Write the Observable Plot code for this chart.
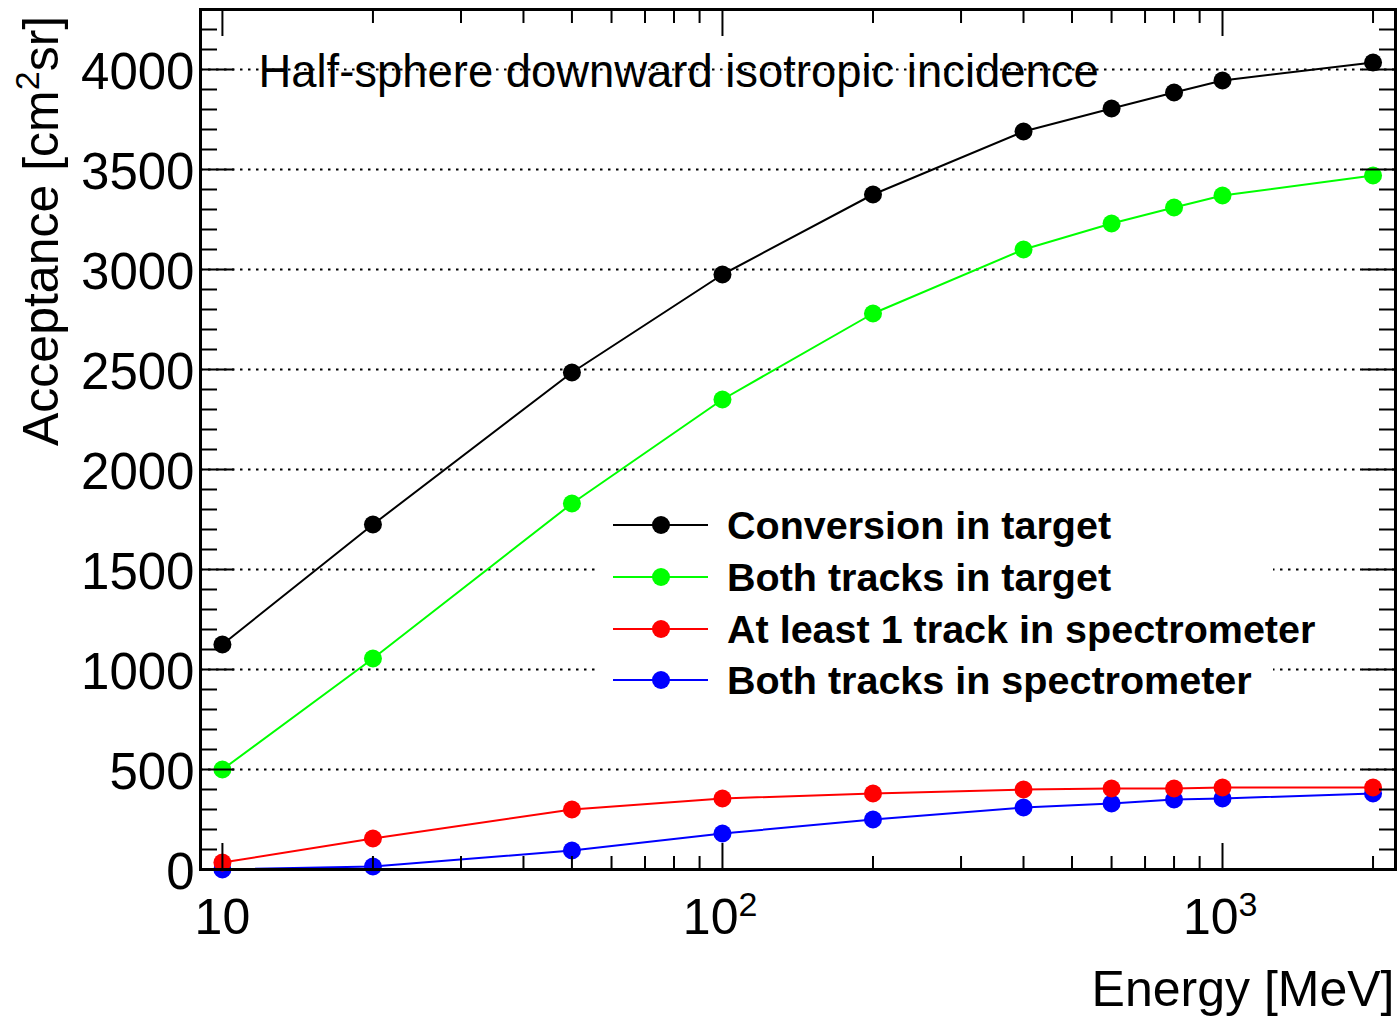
<!DOCTYPE html>
<html>
<head>
<meta charset="utf-8">
<script src="https://cdn.jsdelivr.net/npm/d3@7"></script>
<script src="https://cdn.jsdelivr.net/npm/@observablehq/plot@0.6"></script>
<style>
  body { margin: 0; background: #fff; }
  #chart { width: 1400px; height: 1016px; }
</style>
</head>
<body>
<div id="chart"></div>
<script>
// ---- Data ----
const energies = [10, 20, 50, 100, 200, 400, 600, 800, 1000, 2000];
const conversionInTarget = [1125, 1725, 2485, 2975, 3375, 3690, 3805, 3885, 3945, 4035];
const bothTracksInTarget = [500, 1055, 1830, 2350, 2780, 3100, 3230, 3310, 3370, 3470];
const atLeastOneTrackInSpectrometer = [35, 155, 300, 355, 380, 400, 405, 405, 410, 410];
const bothTracksInSpectrometer = [0, 15, 95, 180, 250, 310, 330, 350, 355, 380];

const seriesNames = [
  "Conversion in target",
  "Both tracks in target",
  "At least 1 track in spectrometer",
  "Both tracks in spectrometer"
];
const seriesValues = [conversionInTarget, bothTracksInTarget, atLeastOneTrackInSpectrometer, bothTracksInSpectrometer];
const seriesColors = ["#000000", "#00ff00", "#ff0000", "#0000ff"];
const drawOrder = [0, 1, 3, 2];

const yMajorTicks = [0, 500, 1000, 1500, 2000, 2500, 3000, 3500, 4000];
const yMinorTicks = [100,200,300,400,600,700,800,900,1100,1200,1300,1400,1600,1700,1800,1900,
  2100,2200,2300,2400,2600,2700,2800,2900,3100,3200,3300,3400,3600,3700,3800,3900,4100,4200];
const yGridLines = [500, 1000, 1500, 2000, 2500, 3000, 3500, 4000];
const xMajorTicks = [10, 100, 1000];
const xMinorTicks = [20, 30, 40, 50, 60, 70, 80, 90, 200, 300, 400, 500, 600, 700, 800, 900, 2000];
const xTickBase = ["10", "10", "10"];
const xTickExponent = ["", "2", "3"];

const titleText = "Half-sphere downward isotropic incidence";
const xLabel = "Energy [MeV]";
const yLabelMain = "Acceptance [cm";
const yLabelSup = "2";
const yLabelEnd = "sr]";

// ---- Tables built from the arrays ----
const rows = [];
seriesNames.forEach((name, s) => {
  energies.forEach((e, i) => rows.push({series: name, s, energy: e, value: seriesValues[s][i]}));
});
const xLabelRows = xMajorTicks.map((v, i) => ({v, base: xTickBase[i], exp: xTickExponent[i]}));

const FONT = "'Liberation Sans', Arial, Helvetica, sans-serif";

const marks = [
  Plot.ruleY(yGridLines, {stroke: "black", strokeWidth: 2, strokeDasharray: "2.5,5.5"})
];
for (const s of drawOrder) {
  const data = rows.filter(r => r.s === s);
  marks.push(Plot.line(data, {x: "energy", y: "value", stroke: seriesColors[s], strokeWidth: 2}));
  marks.push(Plot.dot(data, {x: "energy", y: "value", fill: seriesColors[s], r: 9, stroke: "none"}));
}
const tk = {tickFormat: () => "", label: null, strokeWidth: 2};
marks.push(
  // left ticks
  Plot.axisY(yMajorTicks, {anchor: "left", tickSize: 34, dx: 34, ...tk}),
  Plot.axisY(yMinorTicks, {anchor: "left", tickSize: 17, dx: 17, ...tk}),
  // right ticks
  Plot.axisY(yMajorTicks, {anchor: "right", tickSize: 34, dx: -34, ...tk}),
  Plot.axisY(yMinorTicks, {anchor: "right", tickSize: 17, dx: -17, ...tk}),
  // bottom ticks
  Plot.axisX(xMajorTicks, {anchor: "bottom", tickSize: 26, dy: -26, ...tk}),
  Plot.axisX(xMinorTicks, {anchor: "bottom", tickSize: 13, dy: -13, ...tk}),
  // top ticks
  Plot.axisX(xMajorTicks, {anchor: "top", tickSize: 26, dy: 26, ...tk}),
  Plot.axisX(xMinorTicks, {anchor: "top", tickSize: 13, dy: 13, ...tk}),
  // y tick labels
  Plot.axisY(yMajorTicks, {anchor: "left", tickSize: 0, tickPadding: 6, fontSize: 51, dy: 3,
    tickFormat: d => String(d), label: null}),
  // x tick labels
  Plot.text(xLabelRows.filter(r => !r.exp), {x: "v", text: "base", frameAnchor: "bottom",
    textAnchor: "middle", lineAnchor: "top", dy: 28.5, fontSize: 50}),
  Plot.text(xLabelRows.filter(r => r.exp), {x: "v", text: "base", frameAnchor: "bottom",
    textAnchor: "end", lineAnchor: "top", dx: 16, dy: 28.5, fontSize: 50}),
  Plot.text(xLabelRows.filter(r => r.exp), {x: "v", text: "exp", frameAnchor: "bottom",
    textAnchor: "start", lineAnchor: "top", dx: 16, dy: 22, fontSize: 34}),
  // title inside frame
  Plot.text([titleText], {text: d => d, frameAnchor: "top-left", textAnchor: "start",
    lineAnchor: "top", dx: 58, dy: 45, fontSize: 45.4}),
  // x axis label
  Plot.text([xLabel], {text: d => d, frameAnchor: "bottom-right", textAnchor: "end",
    lineAnchor: "top", dx: -1, dy: 100.5, fontSize: 50}),
  Plot.frame({stroke: "black", strokeWidth: 3})
);

const svg = Plot.plot({
  width: 1400,
  height: 1016,
  marginLeft: 200,
  marginRight: 5,
  marginTop: 9,
  marginBottom: 147,
  style: {fontFamily: FONT, background: "white", color: "black", overflow: "visible"},
  x: {type: "log", domain: [9.04, 2218]},
  y: {domain: [0, 4300]},
  marks
});

document.getElementById("chart").appendChild(svg);

// ---- y-axis label with superscript ----
const sel = d3.select(svg);
const yl = sel.append("text")
  .attr("transform", "translate(58,446) rotate(-90)")
  .attr("font-family", FONT)
  .attr("font-size", 50)
  .attr("fill", "black")
  .attr("text-anchor", "start");
yl.append("tspan").text(yLabelMain);
yl.append("tspan").attr("font-size", 34).attr("dy", -19).text(yLabelSup);
yl.append("tspan").attr("dy", 19).text(yLabelEnd);

// ---- legend (white box, no border) ----
const lg = sel.append("g").attr("text-anchor", "start");
lg.append("rect").attr("x", 596).attr("y", 492).attr("width", 677).attr("height", 222).attr("fill", "white");
const rowY = [525, 577, 629, 680];
seriesNames.forEach((name, s) => {
  const y = rowY[s];
  lg.append("line").attr("x1", 613).attr("x2", 708).attr("y1", y).attr("y2", y)
    .attr("stroke", seriesColors[s]).attr("stroke-width", 2);
  lg.append("circle").attr("cx", 661).attr("cy", y).attr("r", 9).attr("fill", seriesColors[s]);
  lg.append("text").attr("x", 727).attr("y", y).attr("dy", "0.36em")
    .attr("text-anchor", "start")
    .attr("font-family", FONT).attr("font-weight", "bold").attr("font-size", 39.5)
    .attr("fill", "black").text(name);
});
</script>
</body>
</html>
